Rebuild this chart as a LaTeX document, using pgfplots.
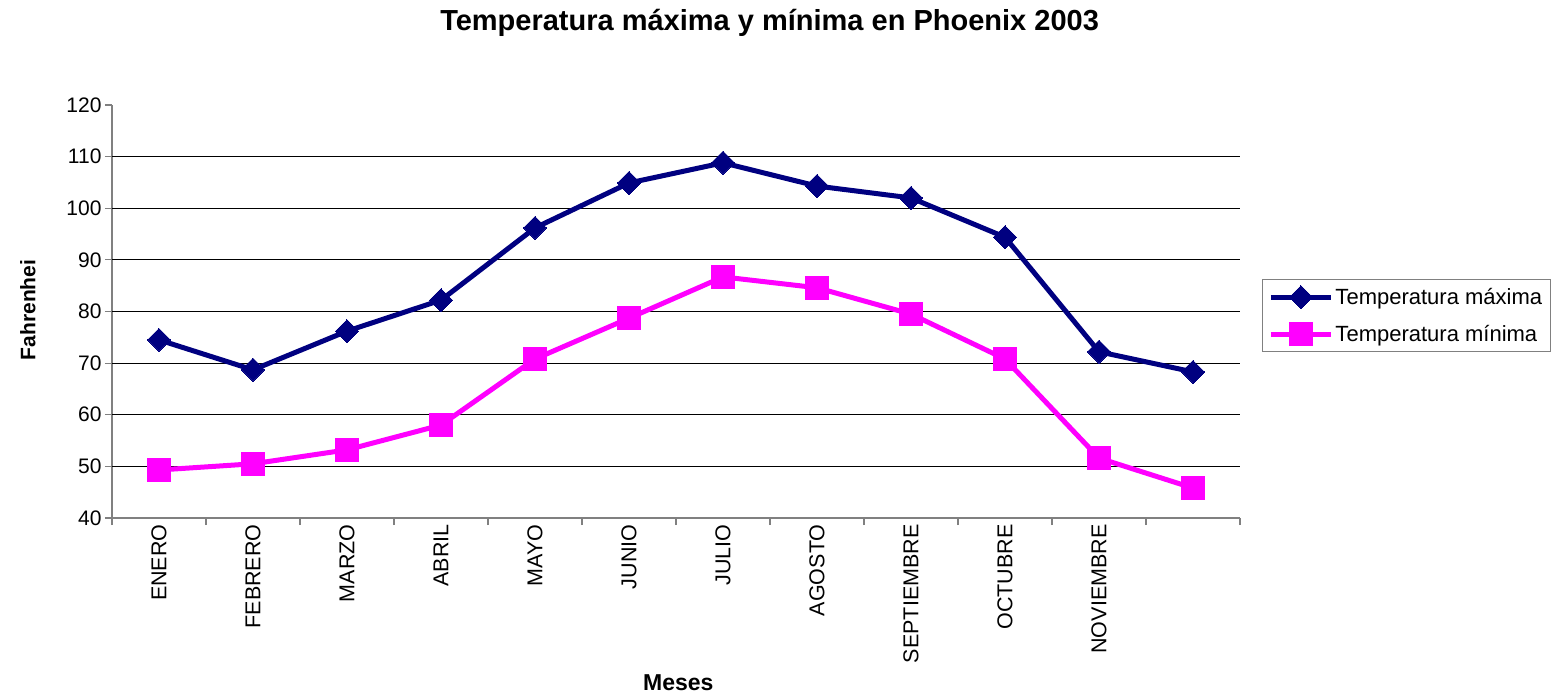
\documentclass[border=0pt]{standalone}
\usepackage{pgfplots}
\pgfplotsset{compat=1.18}
\usepackage{fontspec}
\setmainfont{Liberation Sans}
\definecolor{maxc}{HTML}{000080}
\definecolor{minc}{HTML}{FF00FF}
\definecolor{axgray}{HTML}{808080}
\begin{document}
\begin{tikzpicture}
\begin{axis}[
  scale only axis,
  width=1128pt, height=413pt,
  xmin=0.5, xmax=12.5,
  ymin=40, ymax=120,
  /pgf/number format/assume math mode=true,
  axis x line*=bottom, axis y line*=left,
  axis line style={draw=axgray, line width=1.2pt, -},
  xtick={1,...,12},
  xticklabels={ENERO,FEBRERO,MARZO,ABRIL,MAYO,JUNIO,JULIO,AGOSTO,SEPTIEMBRE,OCTUBRE,NOVIEMBRE,},
  xtick style={draw=none},
  minor xtick={0.5,1.5,...,12.5},
  minor x tick style={draw=axgray, line width=1.2pt},
  minor tick length=7pt,
  x tick label style={rotate=90, anchor=east, font=\fontsize{21.5}{24}\selectfont, xshift=4pt},
  ytick={40,50,...,120},
  ytick style={draw=axgray, line width=1.2pt},
  major tick length=7pt,
  tick align=outside,
  y tick label style={font=\fontsize{21}{24}\selectfont},
  extra y ticks={50,60,...,110},
  extra y tick labels={},
  extra y tick style={grid=major, major tick length=0pt, grid style={black, line width=1pt}},
  title={Temperatura máxima y mínima en Phoenix 2003},
  title style={at={(0.583,1)}, anchor=center, yshift=76pt, font=\bfseries\fontsize{29}{32}\selectfont},
  xlabel={Meses},
  xlabel style={at={(axis description cs:0.502,-0.3995)}, anchor=center, font=\bfseries\fontsize{23}{26}\selectfont},
  ylabel={Fahrenhei},
  ylabel style={at={(axis description cs:-0.0745,0.504)}, anchor=center, rotate=0, font=\bfseries\fontsize{21}{24}\selectfont},
  legend style={at={(1.0195,0.49)}, anchor=west, draw=axgray, line width=1pt, font=\fontsize{22}{25}\selectfont, inner sep=6pt, row sep=14pt},
  legend cell align=left,
  legend image code/.code={
    \draw[#1, mark repeat=2, mark phase=2] plot coordinates {(0pt,0pt) (30pt,0pt) (60pt,0pt)};
  },
]
\addplot[color=maxc, line width=5pt, mark=square*, mark size=8.2pt, mark options={rotate=45, line width=0pt}]
  coordinates {(1,74.5) (2,68.7) (3,76.2) (4,82.2) (5,96.2) (6,104.9) (7,108.8) (8,104.3) (9,102) (10,94.4) (11,72.2) (12,68.3)};
\addlegendentry{Temperatura máxima}
\addplot[color=minc, line width=5pt, mark=square*, mark size=11.5pt, mark options={line width=0pt}]
  coordinates {(1,49.3) (2,50.5) (3,53.2) (4,58) (5,70.8) (6,78.7) (7,86.7) (8,84.6) (9,79.5) (10,70.8) (11,51.6) (12,45.8)};
\addlegendentry{Temperatura mínima}
\end{axis}
\pgfresetboundingbox
\path[use as bounding box] (current axis.south west) ++(-112pt,-177pt) rectangle ++(1557pt,695pt);
\end{tikzpicture}
\end{document}
